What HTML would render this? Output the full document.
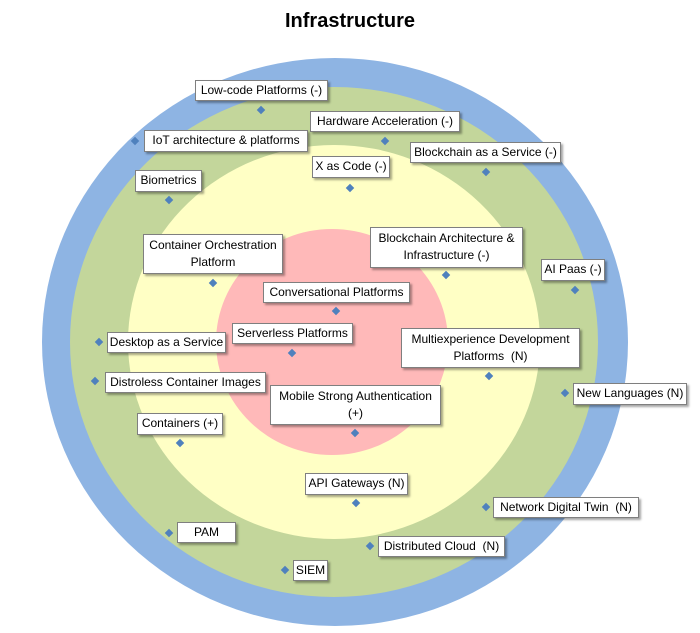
<!DOCTYPE html>
<html><head><meta charset="utf-8"><style>
body{margin:0;width:700px;height:633px;background:#fff;position:relative;overflow:hidden;font-family:"Liberation Sans",sans-serif}
.t{position:absolute;left:0;width:700px;top:10px;text-align:center;font-weight:bold;font-size:20px;color:#000}
.b{position:absolute;background:#fff;border:1px solid #7f7f7f;box-shadow:2px 2px 2px rgba(0,0,0,0.35);font-size:12px;line-height:19px;text-align:center;color:#000;white-space:nowrap;box-sizing:border-box}
.b.two{line-height:17px;padding-top:2px}
.d{position:absolute;width:6px;height:6px;background:#4f81bd;transform:rotate(45deg)}
</style></head><body>
<svg width="700" height="633" style="position:absolute;left:0;top:0">
<ellipse cx="335" cy="342" rx="293" ry="284" fill="#8eb4e3"/>
<ellipse cx="334" cy="342" rx="264" ry="255" fill="#c3d69b"/>
<ellipse cx="334" cy="342" rx="206" ry="197" fill="#ffffc5"/>
<ellipse cx="332" cy="342" rx="116" ry="113" fill="#ffb9b9"/>
</svg>
<div class="t">Infrastructure</div>

<div class="b" style="left:195px;top:80px;width:133px;height:21px">Low-code Platforms (-)</div><div class="d" style="left:258px;top:107px"></div>
<div class="b" style="left:310px;top:111px;width:150px;height:21px">Hardware Acceleration (-)</div><div class="d" style="left:382px;top:138px"></div>
<div class="b" style="left:144px;top:130px;width:164px;height:22px">IoT architecture &amp; platforms</div><div class="d" style="left:132px;top:138px"></div>
<div class="b" style="left:410px;top:142px;width:151px;height:21px">Blockchain as a Service (-)</div><div class="d" style="left:483px;top:169px"></div>
<div class="b" style="left:312px;top:156px;width:78px;height:22px">X as Code (-)</div><div class="d" style="left:347px;top:185px"></div>
<div class="b" style="left:135px;top:170px;width:67px;height:22px">Biometrics</div><div class="d" style="left:166px;top:197px"></div>
<div class="b two" style="left:143px;top:234px;width:140px;height:40px">Container Orchestration<br>Platform</div><div class="d" style="left:210px;top:280px"></div>
<div class="b two" style="left:370px;top:227px;width:153px;height:41px">Blockchain Architecture &amp;<br>Infrastructure (-)</div><div class="d" style="left:443px;top:272px"></div>
<div class="b" style="left:541px;top:259px;width:64px;height:22px">AI Paas (-)</div><div class="d" style="left:572px;top:287px"></div>
<div class="b" style="left:263px;top:282px;width:147px;height:21px">Conversational Platforms</div><div class="d" style="left:333px;top:308px"></div>
<div class="b" style="left:232px;top:323px;width:121px;height:21px">Serverless Platforms</div><div class="d" style="left:289px;top:350px"></div>
<div class="b two" style="left:401px;top:328px;width:179px;height:40px">Multiexperience Development<br>Platforms&nbsp; (N)</div><div class="d" style="left:486px;top:373px"></div>
<div class="b" style="left:107px;top:332px;width:119px;height:21px">Desktop as a Service</div><div class="d" style="left:96px;top:339px"></div>
<div class="b" style="left:105px;top:372px;width:161px;height:21px">Distroless Container Images</div><div class="d" style="left:92px;top:378px"></div>
<div class="b" style="left:573px;top:383px;width:114px;height:22px">New Languages (N)</div><div class="d" style="left:562px;top:390px"></div>
<div class="b two" style="left:270px;top:385px;width:171px;height:40px">Mobile Strong Authentication<br>(+)</div><div class="d" style="left:352px;top:430px"></div>
<div class="b" style="left:137px;top:413px;width:86px;height:22px">Containers (+)</div><div class="d" style="left:177px;top:440px"></div>
<div class="b" style="left:305px;top:473px;width:103px;height:22px">API Gateways (N)</div><div class="d" style="left:353px;top:500px"></div>
<div class="b" style="left:493px;top:497px;width:146px;height:21px">Network Digital Twin&nbsp; (N)</div><div class="d" style="left:483px;top:504px"></div>
<div class="b" style="left:177px;top:522px;width:59px;height:21px">PAM</div><div class="d" style="left:166px;top:530px"></div>
<div class="b" style="left:378px;top:536px;width:127px;height:21px">Distributed Cloud&nbsp; (N)</div><div class="d" style="left:367px;top:543px"></div>
<div class="b" style="left:293px;top:560px;width:35px;height:21px">SIEM</div><div class="d" style="left:282px;top:567px"></div>
</body></html>
